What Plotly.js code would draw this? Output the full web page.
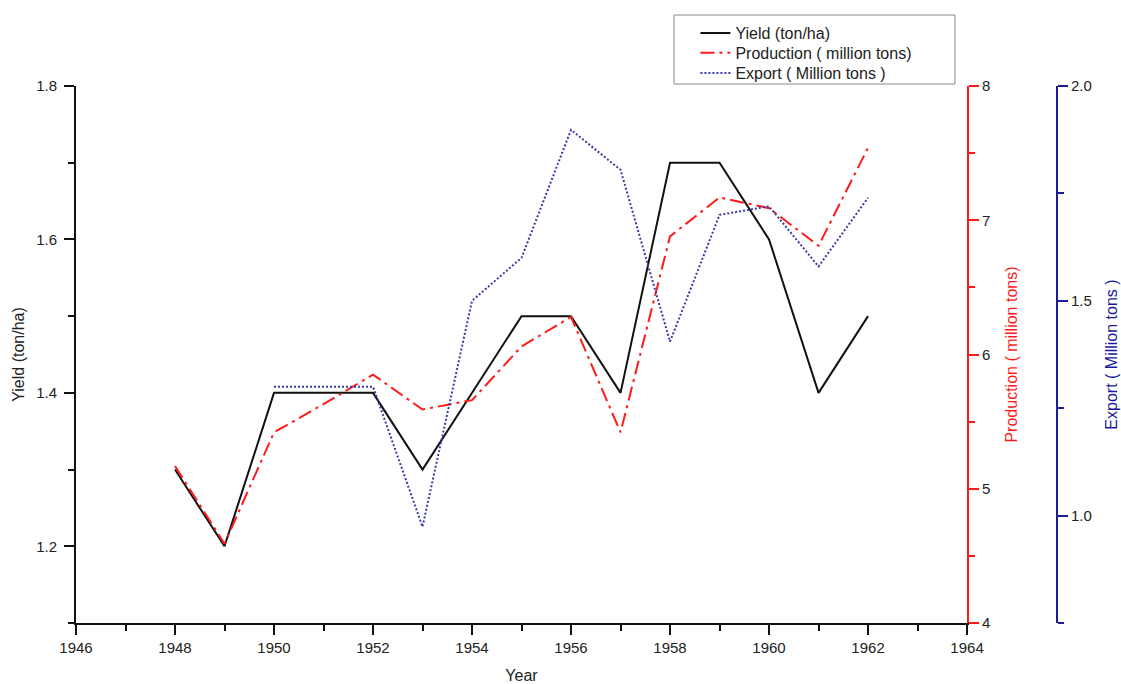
<!DOCTYPE html>
<html>
<head>
<meta charset="utf-8">
<script src="https://cdn.plot.ly/plotly-3.0.1.min.js"></script>
<style>html,body{margin:0;padding:0;background:#fff;}#chart{width:1121px;height:684px;}</style>
</head>
<body>
<div id="chart"></div>
<script>
const years = [1948,1949,1950,1951,1952,1953,1954,1955,1956,1957,1958,1959,1960,1961,1962];
const yieldVals = [1.3,1.2,1.4,1.4,1.4,1.3,1.4,1.5,1.5,1.4,1.7,1.7,1.6,1.4,1.5];
const productionVals = [5.17,4.59,5.42,5.63,5.85,5.59,5.66,6.06,6.28,5.42,6.88,7.17,7.09,6.81,7.54];
const exportYears = [1950,1951,1952,1953,1954,1955,1956,1957,1958,1959,1960,1961,1962];
const exportVals = [1.30,1.30,1.30,0.974,1.50,1.60,1.898,1.805,1.405,1.70,1.72,1.58,1.74];

const FONT = 'Liberation Sans, Arial, sans-serif';
const blueAxis = '#1a1a9c';

const traces = [
  {x: years, y: yieldVals, name: 'Yield (ton/ha)', type: 'scatter', mode: 'lines',
   line: {color: '#111111', width: 2}, yaxis: 'y', legend: 'legend'},
  {x: years, y: productionVals, name: 'Production ( million tons)', type: 'scatter', mode: 'lines',
   line: {color: '#ff1a1a', width: 2, dash: '14px,5px,3px,5px'}, yaxis: 'y2', legend: 'legend2'},
  {x: exportYears, y: exportVals, name: 'Export ( Million tons )', type: 'scatter', mode: 'lines',
   line: {color: '#3a3aa8', width: 2, dash: '2px,2px'}, yaxis: 'y3', legend: 'legend3'}
];

const tickFont = {family: FONT, size: 15, color: '#222'};
const legFont = {family: FONT, size: 16, color: '#222'};
function leg(y) {
  return {x: 0.6314, y: y, xanchor: 'left', yanchor: 'middle', bgcolor: 'rgba(0,0,0,0)',
          borderwidth: 0, font: legFont};
}

const layout = {
  width: 1121, height: 684,
  margin: {l: 76, r: 64, t: 86, b: 61},
  paper_bgcolor: '#ffffff', plot_bgcolor: '#ffffff',
  font: {family: FONT, size: 15, color: '#222'},
  showlegend: true,
  legend: leg(1.0987),
  legend2: leg(1.0615),
  legend3: leg(1.0242),
  shapes: [
    {type: 'rect', xref: 'paper', yref: 'paper', x0: 0.6096, x1: 0.8960, y0: 1.0037, y1: 1.1322,
     line: {color: '#888', width: 1}, fillcolor: 'rgba(0,0,0,0)'}
  ],
  xaxis: {
    domain: [0, 0.9083], range: [1946, 1964], dtick: 2, tick0: 1946,
    showgrid: false, zeroline: false, showline: true, linecolor: '#111', linewidth: 2,
    ticks: 'outside', ticklen: 10, tickwidth: 1.5, tickcolor: '#111',
    minor: {ticks: 'outside', ticklen: 6, dtick: 1, tickwidth: 1.5, tickcolor: '#111', showgrid: false},
    tickfont: tickFont,
    title: {text: 'Year', font: {family: FONT, size: 16, color: '#222'}, standoff: 16}
  },
  yaxis: {
    range: [1.1, 1.8], dtick: 0.2, tick0: 1.2, tickformat: '.1f',
    showgrid: false, zeroline: false, showline: true, linecolor: '#111', linewidth: 2,
    ticks: 'outside', ticklen: 10, tickwidth: 1.5, tickcolor: '#111',
    minor: {ticks: 'outside', ticklen: 6, dtick: 0.1, tickwidth: 1.5, tickcolor: '#111', showgrid: false},
    tickfont: tickFont, ticklabelstandoff: 4,
    title: {text: 'Yield (ton/ha)', font: {family: FONT, size: 16, color: '#222'}, standoff: 8}
  },
  yaxis2: {
    overlaying: 'y', side: 'right', anchor: 'x',
    range: [4, 8], dtick: 1,
    showgrid: false, zeroline: false, showline: true, linecolor: '#ff1a1a', linewidth: 2,
    ticks: 'outside', ticklen: 10, tickwidth: 1.5, tickcolor: '#ff1a1a',
    minor: {ticks: 'outside', ticklen: 6, dtick: 0.5, tickwidth: 1.5, tickcolor: '#ff1a1a', showgrid: false},
    tickfont: tickFont,
    title: {text: 'Production ( million tons)', font: {family: FONT, size: 16, color: '#ff1a1a'}, standoff: 16}
  },
  yaxis3: {
    overlaying: 'y', side: 'right', anchor: 'free', position: 1.0,
    range: [0.75, 2.0], dtick: 0.5, tick0: 1.0, tickformat: '.1f',
    showgrid: false, zeroline: false, showline: true, linecolor: blueAxis, linewidth: 2,
    ticks: 'outside', ticklen: 10, tickwidth: 1.5, tickcolor: blueAxis,
    minor: {ticks: 'outside', ticklen: 6, dtick: 0.25, tickwidth: 1.5, tickcolor: blueAxis, showgrid: false},
    tickfont: tickFont,
    title: {text: 'Export ( Million tons )', font: {family: FONT, size: 16, color: blueAxis}, standoff: 14}
  }
};

Plotly.newPlot('chart', traces, layout, {displayModeBar: false, responsive: false});
</script>
</body>
</html>
